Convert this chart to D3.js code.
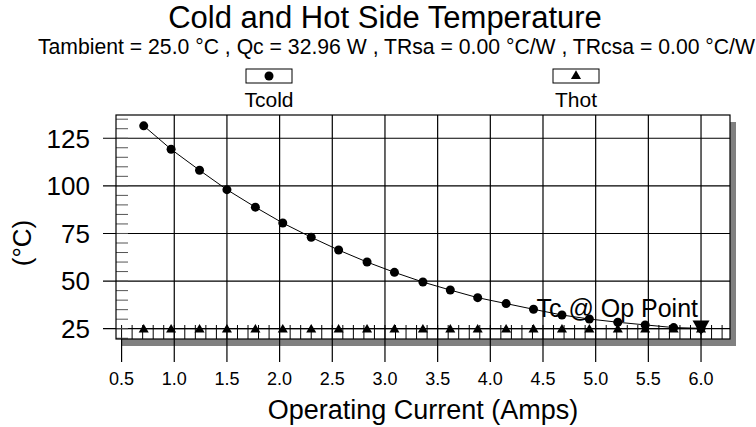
<!DOCTYPE html>
<html>
<head>
<meta charset="utf-8">
<script src="https://cdn.jsdelivr.net/npm/d3@7"></script>
<style>
  body { margin: 0; background: #fff; }
  text { font-family: "Liberation Sans", Arial, sans-serif; fill: #000; }
</style>
</head>
<body>
<svg id="chart" width="756" height="427"></svg>
<script>
// operating current (A) and side temperatures (°C)
const current = [0.71, 0.97, 1.24, 1.50, 1.77, 2.03, 2.30, 2.56, 2.83, 3.09, 3.36,
                 3.62, 3.88, 4.15, 4.41, 4.68, 4.94, 5.21, 5.47, 5.74, 6.00]
const tcold = [131.5, 119.2, 108.2, 98.0, 88.8, 80.5, 73.0, 66.3, 60.0, 54.6, 49.5,
               45.3, 41.3, 38.2, 35.2, 32.2, 30.1, 28.4, 27.0, 25.6, 25.2]
const thot = [25.0, 25.0, 25.0, 25.0, 25.0, 25.0, 25.0, 25.0, 25.0, 25.0, 25.0,
              25.0, 25.0, 25.0, 25.0, 25.0, 25.0, 25.0, 25.0, 25.0, 25.0]
const xTicks = [0.5, 1.0, 1.5, 2.0, 2.5, 3.0, 3.5, 4.0, 4.5, 5.0, 5.5, 6.0]
const yTicks = [25, 50, 75, 100, 125]
const opPoint = { current: 6.00, temp: 25.2, label: "Tc @ Op Point" }
const seriesNames = ["Tcold", "Thot"]

const title = "Cold and Hot Side Temperature"
const subtitle = "Tambient = 25.0 °C , Qc = 32.96 W , TRsa = 0.00 °C/W , TRcsa = 0.00 °C/W"

const margin = { left: 116, right: 26, top: 115, bottom: 88 }
const width = 756 - margin.left - margin.right
const height = 427 - margin.top - margin.bottom

const svg = d3.select("#chart")

const x = d3.scaleLinear().domain([0.447, 6.275]).range([0, width])
const y = d3.scaleLinear().domain([19.6, 137.2]).range([height, 0])

// titles
svg.append("text")
    .attr("x", 385).attr("y", 28)
    .attr("text-anchor", "middle")
    .style("font-size", "31px")
    .text(title)

svg.append("text")
    .attr("x", 755).attr("y", 54)
    .attr("text-anchor", "end")
    .style("font-size", "21.2px")
    .text(subtitle)

const g = svg.append("g")
    .attr("transform", "translate(" + margin.left + "," + margin.top + ")")

// drop shadow + plot frame
g.append("rect")
    .attr("x", 6).attr("y", 7)
    .attr("width", width).attr("height", height)
    .attr("fill", "#808080")
g.append("rect")
    .attr("width", width).attr("height", height)
    .attr("fill", "#fff")

// vertical grid (not at the first tick) and ticks below the frame
g.selectAll(".vgrid")
    .data(xTicks)
    .enter().append("line")
    .attr("class", "vgrid")
    .attr("x1", d => x(d)).attr("x2", d => x(d))
    .attr("y1", d => d === xTicks[0] ? height : 0)
    .attr("y2", height + 23)
    .attr("stroke", "#000").attr("stroke-width", 1.2)

// horizontal grid and ticks out to the left
g.selectAll(".hgrid")
    .data(yTicks)
    .enter().append("line")
    .attr("class", "hgrid")
    .attr("x1", -13).attr("x2", width)
    .attr("y1", d => y(d)).attr("y2", d => y(d))
    .attr("stroke", "#000").attr("stroke-width", 1.2)

// minor ticks inside the frame
const xMinor = d3.range(5, 63).map(d => d / 10)
g.selectAll(".xminor")
    .data(xMinor)
    .enter().append("line")
    .attr("x1", d => x(d)).attr("x2", d => x(d))
    .attr("y1", height - 14).attr("y2", height)
    .attr("stroke", "#000")

const yMinor = d3.range(20, 140, 5)
g.selectAll(".yminor")
    .data(yMinor)
    .enter().append("line")
    .attr("x1", 0).attr("x2", 12)
    .attr("y1", d => y(d)).attr("y2", d => y(d))
    .attr("stroke", "#555")

g.append("rect")
    .attr("width", width).attr("height", height)
    .attr("fill", "none")
    .attr("stroke", "#000").attr("stroke-width", 1.2)

// axis labels
g.selectAll(".xlabel")
    .data(xTicks)
    .enter().append("text")
    .attr("x", d => x(d)).attr("y", height + 46)
    .attr("text-anchor", "middle")
    .style("font-size", "18px")
    .text(d => d3.format(".1f")(d))

g.selectAll(".ylabel")
    .data(yTicks)
    .enter().append("text")
    .attr("x", -26).attr("y", d => y(d))
    .attr("dy", "0.36em")
    .attr("text-anchor", "end")
    .style("font-size", "26px")
    .text(d => d)

svg.append("text")
    .attr("x", margin.left + width / 2).attr("y", 419)
    .attr("text-anchor", "middle")
    .style("font-size", "27px")
    .text("Operating Current (Amps)")

svg.append("text")
    .attr("transform", "translate(31,243) rotate(-90)")
    .attr("text-anchor", "middle")
    .style("font-size", "26px")
    .text("(°C)")

// series
const cold = current.map((c, i) => ({ c: c, t: tcold[i] }))
const hot = current.map((c, i) => ({ c: c, t: thot[i] }))

const line = d3.line()
    .x(d => x(d.c))
    .y(d => y(d.t))

g.append("path")
    .attr("d", line(hot))
    .attr("fill", "none").attr("stroke", "#000").attr("stroke-width", 1)

g.append("path")
    .attr("d", line(cold))
    .attr("fill", "none").attr("stroke", "#000").attr("stroke-width", 1)

const tri = d3.symbol().type(d3.symbolTriangle).size(44)

g.selectAll(".hot")
    .data(hot)
    .enter().append("path")
    .attr("d", tri)
    .attr("transform", d => "translate(" + x(d.c) + "," + (y(d.t) + 1) + ")")

g.selectAll(".cold")
    .data(cold)
    .enter().append("circle")
    .attr("cx", d => x(d.c)).attr("cy", d => y(d.t))
    .attr("r", 4.5)

// operating point marker and label
g.append("path")
    .attr("d", d3.symbol().type(d3.symbolTriangle).size(125))
    .attr("transform", "translate(" + x(opPoint.current) + "," + (y(opPoint.temp) - 3) + ") rotate(180)")

g.append("text")
    .attr("x", x(opPoint.current) - 3).attr("y", y(opPoint.temp) - 11)
    .attr("text-anchor", "end")
    .style("font-size", "25px")
    .text(opPoint.label)

// legend boxes above the frame
const legendX = [269, 576]
const legend = svg.selectAll(".legend")
    .data(seriesNames)
    .enter().append("g")
    .attr("transform", (d, i) => "translate(" + legendX[i] + ",76)")

legend.append("rect")
    .attr("x", -23).attr("y", -7)
    .attr("width", 46).attr("height", 14)
    .attr("fill", "#fff").attr("stroke", "#000")

legend.append("path")
    .attr("d", (d, i) => i === 0
        ? d3.symbol().type(d3.symbolCircle).size(64)()
        : d3.symbol().type(d3.symbolTriangle).size(44)())

legend.append("text")
    .attr("y", 31)
    .attr("text-anchor", "middle")
    .style("font-size", "21px")
    .text(d => d)
</script>
</body>
</html>
